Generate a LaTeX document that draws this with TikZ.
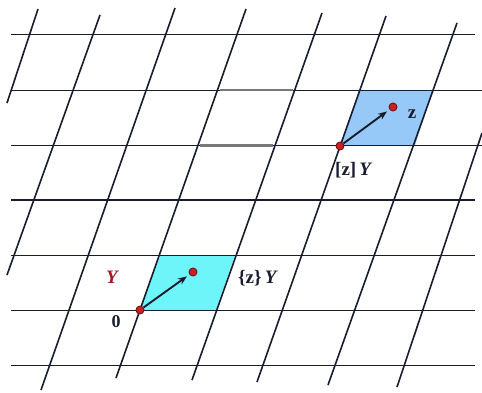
\documentclass[tikz,border=0pt]{standalone}
\usepackage{fontspec}
\setmainfont{Liberation Serif}
\usetikzlibrary{arrows.meta}
\definecolor{cyanfill}{RGB}{110,245,250}
\definecolor{bluefill}{RGB}{150,200,248}
\definecolor{dotred}{RGB}{205,30,35}
\definecolor{dotrim}{RGB}{110,20,20}
\definecolor{ink}{RGB}{25,28,45}
\definecolor{yred}{RGB}{165,25,35}
\definecolor{ghostgray}{RGB}{120,120,120}
\tikzset{
  hline/.style={line width=0.9pt, ink},
  thickhline/.style={line width=1.9pt, ink},
  sline/.style={line width=1.6pt, ink},
  ghost/.style={line width=2.2pt, ghostgray},
  vec/.style={line width=1.9pt, ink, -{Stealth[length=9pt,width=7pt]}, shorten >=3pt},
  dot/.style={circle, fill=dotred, draw=dotrim, line width=0.9pt, inner sep=0pt, minimum size=8pt},
  lbl/.style={font=\fontsize{19}{21}\selectfont\bfseries, text=ink, inner sep=0pt},
  zerolbl/.style={font=\fontsize{18}{20}\selectfont\bfseries, text=ink, inner sep=0pt},
}
\begin{document}
\begin{tikzpicture}[x=1pt,y=-1pt]
\useasboundingbox (0,0) rectangle (482,392);
% fills
\fill[cyanfill] (139.5,310) -- (216,310) -- (235,255) -- (160.5,255) -- cycle;
\fill[bluefill] (340,145.5) -- (415,145.5) -- (433,90) -- (359,90) -- cycle;
% horizontal lines
\draw[hline] (11,34.5) -- (475,34.5);
\draw[hline] (11,90) -- (482,90);
\draw[hline] (11,145.5) -- (482,145.5);
\draw[thickhline] (11,200) -- (475,200);
\draw[hline] (11,255) -- (475,255);
\draw[hline] (11,310) -- (475,310);
\draw[hline] (11,365.5) -- (475,365.5);
% ghost cell
\draw[ghost] (220,90) -- (293,90);
\draw[ghost] (200,145.5) -- (273,145.5);
% slanted lines
\draw[sline] (38,9) -- (7,103);
\draw[sline] (100,15) -- (7,275);
\draw[sline] (175,8) -- (41,390);
\draw[sline] (246,9) -- (116,378);
\draw[sline] (322,13) -- (192,380);
\draw[sline] (386,16) -- (257,382);
\draw[sline] (457,23) -- (328,385);
\draw[sline] (482,133) -- (397,387);
% points
\node[dot] (O) at (140,310) {};
\node[dot] (Z1) at (193,272) {};
\node[dot] (P) at (340,146) {};
\node[dot] (Z2) at (393,107) {};
\draw[vec] (O) -- (Z1);
\draw[vec] (P) -- (Z2);
% labels
\node[lbl, text=yred] (ly) at (112,277) {\itshape Y};
\node[zerolbl] (l0) at (116,322) {0};
\node[lbl, anchor=west] (lfrac) at (238,278) {\{z\}\,\itshape Y};
\node[lbl] (lz) at (412,114) {z};
\node[lbl, anchor=west] (lint) at (335,170) {[z]\,\itshape Y};
\end{tikzpicture}
\end{document}
